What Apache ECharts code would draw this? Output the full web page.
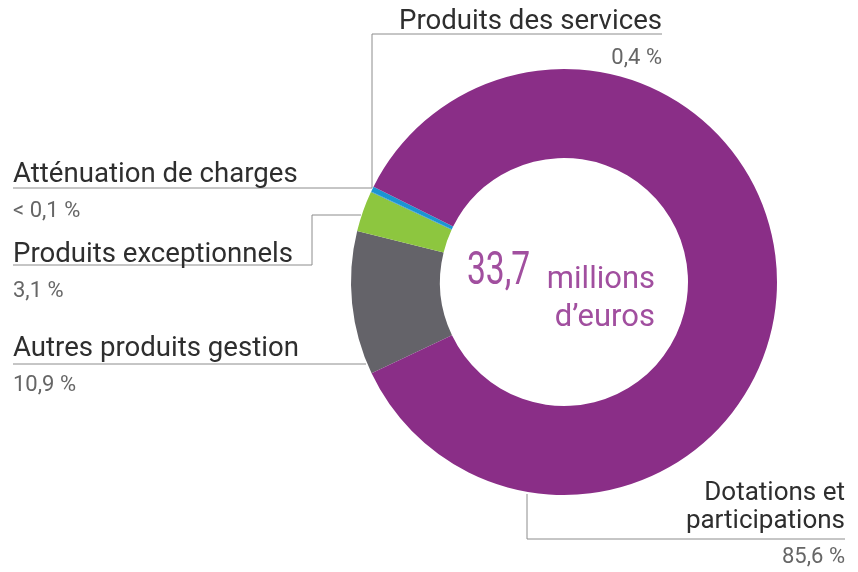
<!DOCTYPE html>
<html>
<head>
<meta charset="utf-8">
<script src="https://cdn.jsdelivr.net/npm/echarts@6/dist/echarts.min.js"></script>
<style>
html,body{margin:0;padding:0;background:#fff;}
#chart{width:858px;height:572px;}
</style>
</head>
<body>
<div id="chart"></div>
<script>
// ---- Data ----
var categories = ['Autres produits gestion', 'Produits exceptionnels', 'Atténuation de charges', 'Produits des services', 'Dotations et participations'];
var values = [10.9, 3.1, 0.05, 0.4, 85.6];
var pctLabels = ['10,9 %', '3,1 %', '< 0,1 %', '0,4 %', '85,6 %'];
var totalValue = '33,7';
var totalUnit1 = 'millions';
var totalUnit2 = 'd’euros';

// ---- Styles / layout ----
var colors = ['#646369', '#8dc63f', '#1f88c9', '#1b95d2', '#8a2e87'];
var nameLines = [['Autres produits gestion'], ['Produits exceptionnels'], ['Atténuation de charges'], ['Produits des services'], ['Dotations et', 'participations']];
var nameStyle = ['n', 'n', 'n', 'n', 'd'];
var labelPos = [
  {x: 13, y: 335, align: 'left'},
  {x: 13, y: 241, align: 'left'},
  {x: 13, y: 161, align: 'left'},
  {x: 662, y: 8, align: 'right'},
  {x: 845, y: 479, align: 'right'}
];
var leaderLines = [
  [[366, 364], [13, 364]],
  [[361, 215], [312, 215], [312, 265], [13, 265]],
  [[372, 188], [13, 188]],
  [[372, 188], [372, 34], [662, 34]],
  [[527, 494], [527, 539], [845, 539]]
];

var chart = echarts.init(document.getElementById('chart'), null, {renderer: 'canvas'});

var data = categories.map(function (c, i) {
  return {name: c, value: values[i], itemStyle: {color: colors[i]}};
});

var option = {
  animation: false,
  series: [{
    type: 'pie',
    center: [564, 282],
    radius: [124, 213],
    startAngle: 205.4,
    clockwise: true,
    avoidLabelOverlap: false,
    emphasis: {disabled: true},
    data: data,
    label: {
      show: true,
      position: 'outside',
      formatter: function (p) {
        var i = p.dataIndex;
        var st = nameStyle[i];
        var s = nameLines[i].map(function (t) { return '{' + st + '|' + t + '}'; }).join('\n');
        return s + '\n{p|' + pctLabels[i] + '}';
      },
      rich: {
        n: {fontFamily: 'Roboto', fontSize: 27.6, color: '#2e2e2e', lineHeight: 28},
        d: {fontFamily: 'Roboto', fontSize: 26, color: '#2e2e2e', lineHeight: 28},
        p: {fontFamily: 'Roboto', fontSize: 22, color: '#666666', lineHeight: 44}
      }
    },
    labelLine: {
      show: true,
      smooth: false,
      lineStyle: {color: '#8c8c8c', width: 1}
    },
    labelLayout: function (params) {
      var i = params.dataIndex;
      var lp = labelPos[i];
      return {
        x: lp.x,
        y: lp.y,
        align: lp.align,
        verticalAlign: 'top',
        labelLinePoints: leaderLines[i]
      };
    }
  }],
  graphic: [
    {type: 'text', x: 467, y: 272, scaleX: 0.73, style: {text: totalValue, font: '46px Roboto', fill: '#a14f9f', align: 'left', verticalAlign: 'middle'}},
    {type: 'text', x: 655, y: 280, style: {text: totalUnit1, font: '31px Roboto', fill: '#a14f9f', align: 'right', verticalAlign: 'middle'}},
    {type: 'text', x: 655, y: 318, style: {text: totalUnit2, font: '31px Roboto', fill: '#a14f9f', align: 'right', verticalAlign: 'middle'}}
  ]
};
chart.setOption(option);
</script>
</body>
</html>
